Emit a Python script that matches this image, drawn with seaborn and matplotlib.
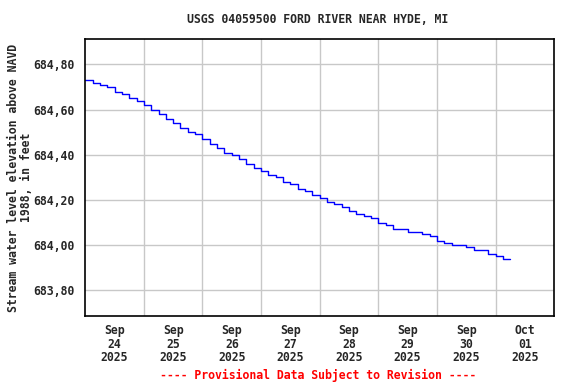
import numpy as np
import pandas as pd
import matplotlib
matplotlib.use("Agg")
import matplotlib.pyplot as plt
import matplotlib.dates as mdates
from matplotlib.ticker import FuncFormatter
import seaborn as sns

# readings every 3 hours from Sep 24 2025 00:00
start = "2025-09-24 00:00"
step_hours = 3
elevation = [684.73, 684.72, 684.71, 684.70, 684.68, 684.67, 684.65, 684.64,
             684.62, 684.60, 684.58, 684.56, 684.54, 684.52, 684.50, 684.49,
             684.47, 684.45, 684.43, 684.41, 684.40, 684.38, 684.36, 684.34,
             684.33, 684.31, 684.30, 684.28, 684.27, 684.25, 684.24, 684.22,
             684.21, 684.19, 684.18, 684.17, 684.15, 684.14, 684.13, 684.12,
             684.10, 684.09, 684.07, 684.07, 684.06, 684.06, 684.05, 684.04,
             684.02, 684.01, 684.00, 684.00, 683.99, 683.98, 683.98, 683.96,
             683.95, 683.94, 683.94]
y_ticks = [683.80, 684.00, 684.20, 684.40, 684.60, 684.80]
day_labels = ["Sep\n24\n2025", "Sep\n25\n2025", "Sep\n26\n2025", "Sep\n27\n2025",
              "Sep\n28\n2025", "Sep\n29\n2025", "Sep\n30\n2025", "Oct\n01\n2025"]

df = pd.DataFrame({
    "time": pd.date_range(start, periods=len(elevation), freq=f"{step_hours}h"),
    "elev": elevation,
})

sns.set_style("white")
plt.rcParams["font.family"] = ["DejaVu Sans Mono"]
plt.rcParams["font.weight"] = "bold"

fig = plt.figure(figsize=(5.76, 3.84), dpi=100)
ax = fig.add_axes([0.148, 0.177, 0.814, 0.721])

sns.lineplot(data=df, x="time", y="elev", ax=ax, color="#0000ff",
             linewidth=1.0, drawstyle="steps-post")

days = pd.date_range("2025-09-24", periods=9, freq="D")
ax.set_xlim(days[0], days[-1])
ax.set_ylim(683.686, 684.912)

noon = days[:-1] + pd.Timedelta(hours=12)
ax.set_xticks(noon)
ax.set_xticklabels(day_labels, fontsize=8.3, fontweight="bold", linespacing=1.05)
ax.set_xticks(days[1:-1], minor=True)
ax.tick_params(axis="x", which="both", length=0, pad=6)

ax.set_yticks(y_ticks)
ax.yaxis.set_major_formatter(FuncFormatter(lambda v, p: f"{v:.2f}".replace(".", ",")))
ax.tick_params(axis="y", length=4, width=0.8, color="#888888", pad=4, labelsize=8.3)

ax.grid(False)
ax.grid(True, axis="y", which="major", color="#c8c8c8", linewidth=1)
ax.grid(True, axis="x", which="minor", color="#c8c8c8", linewidth=1)
ax.set_axisbelow(True)
for s in ax.spines.values():
    s.set_color("black")
    s.set_linewidth(1.2)

ax.set_xlabel("")
ax.set_ylabel("Stream water level elevation above NAVD\n1988, in feet",
              fontsize=8.3, fontweight="bold", linespacing=1.0)
ax.yaxis.set_label_coords(-0.112, 0.5)

fig.text(0.552, 0.95, "USGS 04059500 FORD RIVER NEAR HYDE, MI",
         ha="center", va="center", fontsize=8.3, fontweight="bold")
fig.text(0.552, 0.023, "---- Provisional Data Subject to Revision ----",
         ha="center", va="center", fontsize=8.3, fontweight="bold", color="red")

fig.savefig("out.png", dpi=100)
